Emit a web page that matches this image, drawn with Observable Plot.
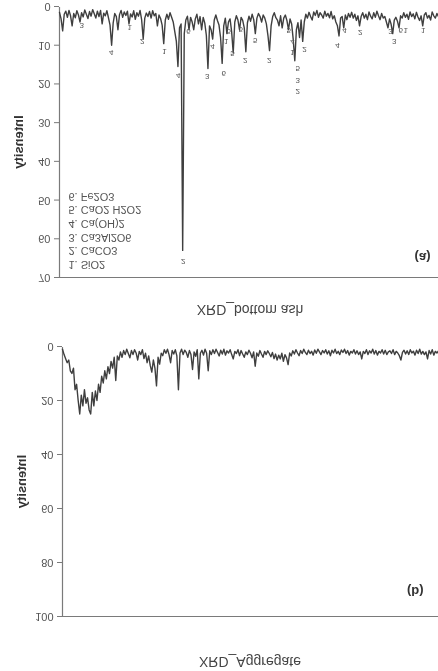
<!DOCTYPE html>
<html>
<head>
<meta charset="utf-8">
<script src="https://cdn.jsdelivr.net/npm/d3@7"></script>
<script src="https://cdn.jsdelivr.net/npm/@observablehq/plot@0.6"></script>
<style>
  html, body { margin: 0; padding: 0; background: #fff; }
  #root { position: relative; width: 438px; height: 671px; overflow: hidden; transform: scaleY(-1); background: #fff;
          font-family: "Liberation Sans", Arial, sans-serif; filter: blur(0.3px); }
  .title { position: absolute; left: 62px; width: 376px; text-align: center; font-size: 14px; color: #444; line-height: 16px; }
  .panel { position: absolute; left: 0; }
  svg { overflow: visible; }
</style>
</head>
<body>
<div id="root">
  <div class="title" id="titleB" style="top:1px">XRD_Aggregate</div>
  <div class="panel" id="panelB" style="top:44px"></div>
  <div class="title" id="titleA" style="top:353px">XRD_bottom ash</div>
  <div class="panel" id="panelA" style="top:383px"></div>
</div>
<script>
// ---- data (2θ step scan: start 10°, step 0.25°) ----
const twoThetaStart = 10;
const twoThetaStep = 0.25;

const bottomAshIntensity = [
  1.5, 3.2, 6.3, 2.0, 1.2, 2.8, 1.0, 2.4, 5.0, 1.8,
  2.9, 1.1, 2.2, 4.0, 1.6, 2.7, 0.9, 2.0, 3.1, 1.3,
  2.5, 0.8, 1.9, 3.0, 1.2, 2.6, 1.0, 4.5, 1.7, 2.4,
  1.1, 2.9, 4.8, 10.0, 4.2, 1.8, 2.6, 6.0, 2.1, 1.0,
  2.8, 1.4, 2.3, 1.2, 4.5, 1.9, 2.7, 1.1, 3.3, 1.6,
  2.5, 1.0, 3.4, 8.4, 3.0, 1.7, 2.6, 1.3, 3.0, 1.1,
  2.4, 1.8, 5.0, 2.2, 3.1, 4.8, 9.6, 3.5, 2.0, 3.3,
  1.6, 2.8, 4.0, 6.5, 9.0, 15.5, 5.5, 4.5, 63.0, 7.0,
  3.5, 2.5, 6.0, 2.8, 4.0, 6.0, 3.2, 2.0, 4.5, 2.6,
  6.0, 2.8, 4.3, 7.5, 16.0, 5.0, 6.0, 8.4, 3.5, 2.2,
  3.6, 4.8, 8.0, 14.7, 5.0, 3.0, 7.0, 4.0, 3.2, 6.5,
  12.0, 4.0, 2.4, 3.5, 6.0, 2.8, 3.6, 5.5, 11.7, 4.2,
  2.5, 3.8, 2.0, 3.4, 7.0, 3.0, 1.8, 2.6, 4.0, 2.2,
  3.0, 4.5, 7.5, 11.4, 5.0, 2.6, 1.6, 2.9, 3.5, 5.0,
  2.4, 5.5, 3.0, 2.2, 3.6, 6.0, 3.2, 4.5, 8.5, 14.0,
  6.0, 4.2, 8.0, 3.5, 9.0, 4.0, 2.0, 3.0, 1.5, 2.6,
  3.5, 1.4, 2.3, 1.0, 2.8, 1.6, 2.2, 3.0, 1.2, 2.5,
  1.8, 2.9, 1.3, 3.2, 2.4, 4.0, 5.0, 7.6, 3.0, 2.6,
  5.5, 2.2, 3.4, 1.8, 2.8, 1.5, 3.0, 2.0, 3.6, 2.4,
  5.0, 2.6, 1.6, 3.0, 2.0, 3.4, 1.4, 2.5, 3.2, 1.6,
  2.8, 1.2, 2.4, 3.4, 1.8, 3.0, 2.6, 4.0, 5.5, 3.2,
  4.6, 7.0, 3.5, 2.8, 3.8, 5.5, 2.4, 3.0, 1.6, 2.8,
  2.0, 3.3, 1.4, 2.6, 1.9, 3.2, 1.5, 2.7, 3.6, 2.4,
  5.0, 2.2, 1.6, 3.0, 2.3, 3.5, 1.4, 2.4, 3.0, 1.8,
  2.6
];

const aggregateIntensity = [
  1.0, 3.0, 4.5, 6.0, 5.0, 9.0, 10.0, 8.0, 16.0, 14.0,
  20.0, 25.0, 18.0, 22.0, 16.0, 21.0, 19.0, 23.5, 25.0, 17.0,
  22.0, 16.5, 20.0, 14.0, 17.0, 11.0, 13.5, 9.0, 12.0, 7.5,
  10.0, 5.5, 8.0, 4.0, 12.6, 3.5, 5.0, 2.0, 4.0, 1.5,
  3.0, 1.0, 2.6, 4.2, 1.5, 3.0, 1.2, 2.4, 5.0, 1.8,
  3.0, 1.2, 4.5, 2.5, 6.0, 3.5, 7.0, 9.5, 5.0, 8.0,
  14.6, 4.0, 6.5, 2.5, 3.4, 1.2, 2.5, 1.0, 3.0, 6.0,
  1.5, 2.8, 1.2, 3.5, 16.0, 2.4, 1.0, 3.0, 1.4, 2.2,
  4.0, 1.5, 3.0, 8.5, 2.0, 3.6, 1.2, 12.0, 2.5, 1.4,
  3.2, 1.0, 2.5, 9.0, 1.6, 3.0, 1.2, 2.6, 1.0, 2.2,
  3.5, 1.4, 2.8, 1.0, 3.2, 1.6, 2.4, 1.2, 3.0, 4.6,
  1.8, 2.6, 1.2, 3.4, 1.5, 2.8, 4.0, 2.0, 3.0, 1.4,
  2.5, 4.2, 2.0, 7.3, 2.4, 3.6, 1.5, 2.8, 4.0, 1.8,
  3.0, 1.6, 2.6, 3.8, 2.2, 4.5, 2.8, 5.0, 3.2, 4.6,
  2.5, 5.5, 3.0, 4.2, 6.7, 2.4, 3.5, 1.6, 2.8, 1.2,
  2.4, 3.4, 1.5, 2.6, 1.0, 2.2, 3.0, 1.4, 2.6, 1.8,
  3.2, 1.3, 2.5, 1.0, 2.0, 3.0, 1.5, 2.4, 1.2, 2.8,
  1.6, 3.4, 1.4, 2.4, 1.0, 2.6, 1.8, 3.0, 1.3, 2.2,
  1.0, 2.6, 1.5, 3.2, 1.8, 2.4, 1.2, 2.8, 1.6, 3.0,
  2.0, 4.6, 1.8, 2.6, 1.2, 3.0, 1.6, 2.4, 1.0, 2.8,
  1.5, 3.2, 1.8, 2.4, 1.2, 2.8, 1.4, 3.0, 2.0, 1.6,
  2.6, 1.2, 3.0, 1.8, 2.4, 3.4, 5.0, 2.2, 1.4, 2.8,
  1.6, 3.0, 1.2, 2.4, 1.8, 3.2, 1.4, 2.6, 1.0, 2.8,
  1.8, 3.0, 2.0, 4.6, 1.5, 2.8, 1.2, 3.2, 1.8, 2.4,
  1.6
];

// phase labels on bottom-ash peaks
const peakLabelTheta = [13.5, 18.2, 21.1, 23.1, 26.6, 28.8, 29.6, 30.4, 33.4, 34.2, 36.0, 36.4, 36.8, 37.4, 38.7, 39.4,
                        41.0, 43.2, 46.3, 46.9, 46.9, 47.7, 48.8, 54.0, 55.1, 57.6, 62.4, 63.0, 64.0, 64.8, 67.6];
const peakLabelY     = [5.2, 12.1, 5.7, 9.3, 11.9, 18.1, 66.1, 6.7, 18.3, 10.6, 17.6, 9.3, 6.7, 12.4, 6.2, 14.2,
                        9.0, 14.2, 6.5, 9.4, 12.2, 19.3, 11.4, 10.3, 6.5, 7.0, 6.7, 9.3, 6.5, 6.5, 6.5];
const peakLabelText  = ["3", "4", "1", "2", "1", "4", "2", "6", "3", "4", "6", "1", "5", "5", "5", "2",
                        "5", "2", "5", "4", "1", "2\n3\n5", "2", "4", "4", "2", "3", "3", "6", "1", "1"];

const legendItems = ["1. SiO2", "2. CaCO3", "3. Ca3Al2O6", "4. Ca(OH)2", "5. CaO2 H2O2", "6. Fe2O3"];
const yTicksA = [0, 10, 20, 30, 40, 50, 60, 70];
const yTicksB = [0, 20, 40, 60, 80, 100];

// ---- build ----
const toSeries = arr => arr.map((v, i) => ({theta: twoThetaStart + i * twoThetaStep, intensity: v}));
const seriesA = toSeries(bottomAshIntensity);
const seriesB = toSeries(aggregateIntensity);
const labelsA = peakLabelTheta.map((t, i) => ({theta: t, intensity: peakLabelY[i], text: peakLabelText[i]}));

const lineColor = "#3f3f3f";
const axisColor = "#7a7a7a";
const textColor = "#555";

function axisMarks(ticks, xMin) {
  return [
    Plot.axisY({ticks, tickSize: 5, tickPadding: 4, fontSize: 11, stroke: axisColor, fill: textColor, label: null}),
    Plot.ruleX([xMin], {stroke: axisColor, strokeWidth: 1.2}),
    Plot.text(["Intensity"], {frameAnchor: "left", textAnchor: "middle", rotate: -90, dx: -41, fontSize: 13, fontWeight: "bold", fill: "#333"})
  ];
}

const plotB = Plot.plot({
  width: 438, height: 300,
  marginLeft: 62, marginRight: 0, marginTop: 10, marginBottom: 20,
  style: {fontFamily: "Liberation Sans, Arial, sans-serif", background: "transparent"},
  x: {domain: [10, 70], axis: null},
  y: {domain: [0, 100], axis: null},
  marks: [
    ...axisMarks(yTicksB, 10),
    Plot.ruleY([100], {stroke: axisColor, strokeWidth: 1.2}),
    Plot.line(seriesB, {x: "theta", y: "intensity", stroke: lineColor, strokeWidth: 1.4}),
    Plot.text(["(b)"], {frameAnchor: "top-right", textAnchor: "end", dx: -15, dy: 20, fontSize: 13, fontWeight: "bold", fill: "#333"})
  ]
});

const plotA = Plot.plot({
  width: 438, height: 301,
  marginLeft: 59, marginRight: 0, marginTop: 10, marginBottom: 20,
  style: {fontFamily: "Liberation Sans, Arial, sans-serif", background: "transparent"},
  x: {domain: [10, 70], axis: null},
  y: {domain: [0, 70], axis: null},
  marks: [
    ...axisMarks(yTicksA, 10),
    Plot.ruleY([70], {stroke: axisColor, strokeWidth: 1.2}),
    Plot.line(seriesA, {x: "theta", y: "intensity", stroke: lineColor, strokeWidth: 1.4}),
    Plot.text(labelsA, {x: "theta", y: "intensity", text: "text", fontSize: 8, fill: textColor, lineAnchor: "middle", lineHeight: 1.4}),
    Plot.text([legendItems.join("\n")], {frameAnchor: "top-left", textAnchor: "start", lineAnchor: "top", dx: 9, dy: 7, fontSize: 11, lineHeight: 1.24, fill: textColor}),
    Plot.text(["(a)"], {frameAnchor: "top-right", textAnchor: "end", dx: -8, dy: 15, fontSize: 13, fontWeight: "bold", fill: "#333"})
  ]
});

document.getElementById("panelB").appendChild(plotB);
document.getElementById("panelA").appendChild(plotA);
</script>
</body>
</html>
